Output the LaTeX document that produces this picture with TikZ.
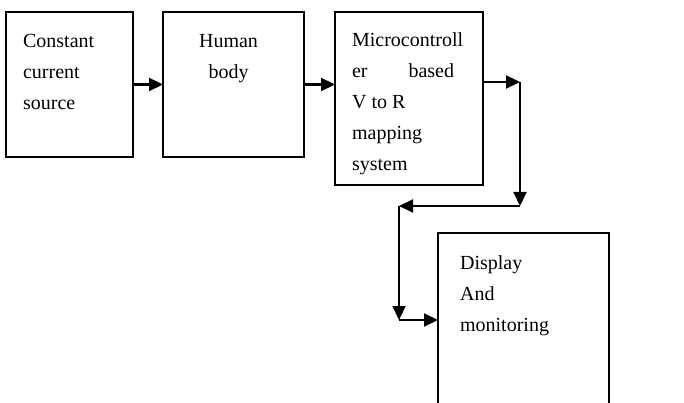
\documentclass[tikz,border=0pt]{standalone}
\usepackage{fontspec}
\setmainfont{Liberation Serif}
\usetikzlibrary{arrows.meta, positioning}
\tikzset{block/.style={draw, line width=1.2pt, outer sep=0pt, inner sep=0pt}}
\tikzset{blocktext/.style={inner sep=0pt, align=left, font=\fontsize{20}{31}\selectfont}}

\begin{document}
\begin{tikzpicture}[x=1pt, y=-1pt, >={Triangle[length=14pt,width=13pt]}, line width=2.2pt]
\clip (0,0) rectangle (684,403);
\node[block, minimum width=127pt, minimum height=145pt] (src) at (69.5,84.5) {};
\node[block, minimum width=141pt, minimum height=145pt] (body) at (233.5,84.5) {};
\node[block, minimum width=148pt, minimum height=173pt] (mcu) at (409,98.5) {};
\node[block, minimum width=171pt, minimum height=187pt] (disp) at (523.5,326.5) {};
\node[blocktext, below right=19pt and 16pt of src.north west] (srctext) {\rule{0pt}{15pt}Constant\\current\\source};
\node[blocktext, align=center, below right=19pt and 35pt of body.north west] (bodytext) {\rule{0pt}{15pt}Human\\body};
\node[blocktext, below right=18pt and 16pt of mcu.north west] (mcutext) {\rule{0pt}{15pt}Microcontroll\\\hbox to 102pt{er\hfill based}\\V to R\\mapping\\system};
\node[blocktext, below right=20pt and 21pt of disp.north west] (disptext) {\rule{0pt}{15pt}Display\\And\\monitoring};
\coordinate (c1) at (520,82);
\coordinate (c2) at (520,206);
\coordinate (c3) at (399,206);
\coordinate (c4) at (399,320);
\draw[->] (src) -- (body);
\draw[->] (body.east) -- (body.east -| mcu.west);
\draw[->] (mcu.east |- c1) -- (c1);
\draw[->] (c1) -- (c2);
\draw[->] (c2) -- (c3);
\draw[->] (c3) -- (c4);
\draw[->] (c4) -- (c4 -| disp.west);
\end{tikzpicture}
\end{document}
